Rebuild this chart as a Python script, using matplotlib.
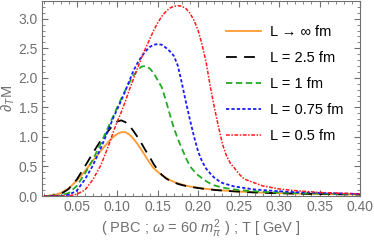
import numpy as np
import matplotlib
matplotlib.use('Agg')
import matplotlib.pyplot as plt
from matplotlib.ticker import MultipleLocator

# temperature grid [GeV]
T = [0.01, 0.02, 0.03, 0.04, 0.05, 0.06, 0.07, 0.08, 0.09,
     0.095, 0.10, 0.105, 0.11, 0.115, 0.12, 0.125, 0.13, 0.135, 0.14,
     0.145, 0.15, 0.155, 0.16, 0.165, 0.17, 0.175, 0.18, 0.185, 0.19,
     0.195, 0.20, 0.205, 0.21, 0.215, 0.22, 0.225, 0.23, 0.235, 0.24,
     0.245, 0.25, 0.255, 0.26,
     0.27, 0.28, 0.30, 0.32, 0.35, 0.40]

# dT M for each box size
L_inf = [0.0, 0.01, 0.05, 0.13, 0.26, 0.42, 0.60, 0.77, 0.93,
         1.00, 1.05, 1.08, 1.08, 1.04, 0.97, 0.88, 0.78, 0.67, 0.56,
         0.47, 0.41, 0.35, 0.31, 0.27, 0.24, 0.215, 0.195, 0.175, 0.16,
         0.15, 0.14, 0.13, 0.12, 0.115, 0.105, 0.10, 0.095, 0.09, 0.085,
         0.08, 0.075, 0.072, 0.068,
         0.062, 0.057, 0.048, 0.041, 0.034, 0.026]
L_25 = [0.0, 0.005, 0.03, 0.12, 0.28, 0.50, 0.73, 0.95, 1.12,
        1.20, 1.26, 1.28, 1.25, 1.19, 1.10, 1.00, 0.89, 0.77, 0.66,
        0.54, 0.44, 0.36, 0.30, 0.26, 0.23, 0.205, 0.185, 0.17, 0.155,
        0.145, 0.135, 0.125, 0.118, 0.11, 0.103, 0.097, 0.092, 0.087, 0.082,
        0.078, 0.074, 0.07, 0.066,
        0.06, 0.055, 0.047, 0.04, 0.033, 0.025]
L_1 = [0.0, 0.0, 0.01, 0.05, 0.17, 0.38, 0.62, 0.90, 1.20,
       1.35, 1.50, 1.65, 1.79, 1.92, 2.04, 2.13, 2.19, 2.20, 2.16,
       2.08, 1.96, 1.84, 1.62, 1.38, 1.15, 0.96, 0.80, 0.64, 0.50,
       0.42, 0.35, 0.30, 0.25, 0.21, 0.18, 0.16, 0.145, 0.13, 0.12,
       0.11, 0.10, 0.095, 0.09,
       0.08, 0.07, 0.058, 0.05, 0.04, 0.03]
L_075 = [0.0, 0.0, 0.0, 0.02, 0.09, 0.28, 0.52, 0.82, 1.15,
         1.32, 1.47, 1.62, 1.78, 1.95, 2.12, 2.25, 2.36, 2.45, 2.52,
         2.56, 2.57, 2.56, 2.51, 2.45, 2.37, 2.20, 1.90, 1.58, 1.28,
         1.00, 0.75, 0.58, 0.46, 0.38, 0.31, 0.26, 0.22, 0.20, 0.18,
         0.16, 0.15, 0.14, 0.13,
         0.11, 0.10, 0.08, 0.065, 0.052, 0.035]
L_05 = [0.0, 0.0, 0.0, 0.0, 0.03, 0.10, 0.28, 0.53, 0.88,
        1.08, 1.26, 1.42, 1.60, 1.80, 1.98, 2.16, 2.34, 2.50, 2.65,
        2.80, 2.93, 3.04, 3.12, 3.18, 3.21, 3.22, 3.21, 3.17, 3.09,
        2.97, 2.80, 2.55, 2.25, 1.85, 1.50, 1.18, 0.88, 0.68, 0.55,
        0.47, 0.38, 0.31, 0.27,
        0.22, 0.17, 0.12, 0.09, 0.06, 0.035]

labels = ['L → ∞ fm', 'L = 2.5 fm', 'L = 1 fm', 'L = 0.75 fm', 'L = 0.5 fm']

plt.rcParams['font.family'] = ['Liberation Sans', 'DejaVu Sans']
plt.rcParams['mathtext.fontset'] = 'custom'
plt.rcParams['mathtext.it'] = 'Liberation Sans:italic'
plt.rcParams['mathtext.rm'] = 'Liberation Sans'
grey = '#707070'

fig = plt.figure(figsize=(3.74, 2.41), dpi=100)
ax = fig.add_axes([42/374, 45/241, 318/374, 195/241])

ax.plot(T, L_inf, color='#FF9A30', lw=1.3, label=labels[0])
ax.plot(T, L_25, color='black', lw=1.3, dashes=[6, 4], label=labels[1])
ax.plot(T, L_1, color='#22AA22', lw=1.3, dashes=[3.5, 2], label=labels[2])
ax.plot(T, L_075, color='#1a1aff', lw=1.3, dashes=[1.8, 1.2], label=labels[3])
ax.plot(T, L_05, color='#ff1a1a', lw=1.1, dashes=[2.5, 1, 1, 1], label=labels[4])

ax.set_xlim(0.007, 0.40)
ax.set_ylim(0, 3.3)
ax.xaxis.set_major_locator(MultipleLocator(0.05))
ax.xaxis.set_minor_locator(MultipleLocator(0.01))
ax.yaxis.set_major_locator(MultipleLocator(0.5))
ax.yaxis.set_minor_locator(MultipleLocator(0.1))
ax.xaxis.set_major_formatter(matplotlib.ticker.FormatStrFormatter('%.2f'))
ax.yaxis.set_major_formatter(matplotlib.ticker.FormatStrFormatter('%.1f'))
ax.tick_params(which='both', direction='in', top=True, right=True,
               colors=grey, labelsize=10, pad=3)
ax.tick_params(which='major', length=4)
ax.tick_params(which='minor', length=2)
for s in ax.spines.values():
    s.set_color(grey)
    s.set_linewidth(0.8)

ax.set_ylabel(r'$\partial_T$M', color=grey, fontsize=10.5, labelpad=1)
ax.set_xlabel(r'( PBC ; $\omega$ = 60 $m_\pi^2$ ) ; T [ GeV ]', color=grey, fontsize=10.5, labelpad=2)

ax.legend(loc='upper right', frameon=False, fontsize=10.5, handlelength=2.4,
          handletextpad=0.6, labelspacing=0.82, borderaxespad=0,
          bbox_to_anchor=(0.965, 0.905))

fig.savefig('out.png', dpi=100)
